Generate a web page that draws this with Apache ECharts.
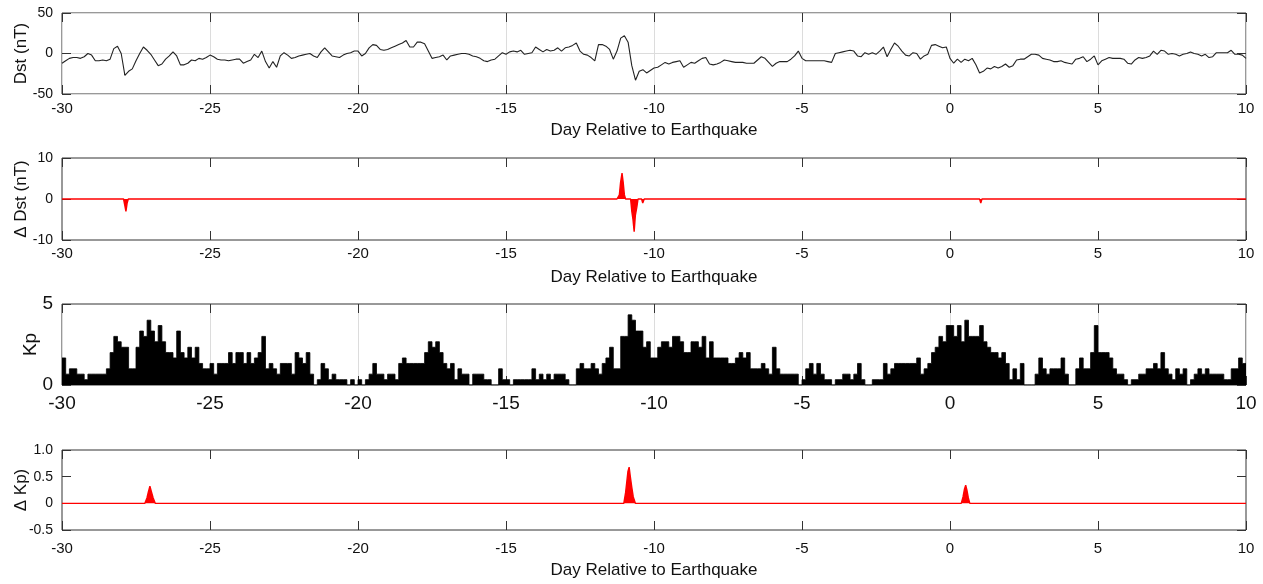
<!DOCTYPE html>
<html><head><meta charset="utf-8">
<script src="https://cdn.jsdelivr.net/npm/echarts/dist/echarts.min.js"></script>
<style>html,body{margin:0;padding:0;background:#fff}#c{width:1263px;height:584px}</style>
</head><body><div id="c"></div>
<script>
// ---- data ----
const dayStart = -30, dayEnd = 10, sampleStep = 0.125; // 3-hourly samples
const xTickInterval = 5;
const xTitle = 'Day Relative to Earthquake';
const yNames = ['Dst (nT)', '\u0394 Dst (nT)', 'Kp', '\u0394 Kp)'];

const dstVals = [
-12,-9,-6,-5,-5,-6,-4,0,-2,-9,
-9,-8,-9,-7,6,9,0,-27,-22,-19,
-9,0,8,4,-1,-8,-15,-13,-7,-3,
2,-3,-14,-14,-12,-8,-9,-6,-7,-5,
-2,-4,-7,-8,-8,-9,-8,-7,-7,-12,
-10,-8,-1,-5,3,-10,-18,-10,-17,-3,
1,-2,-6,-5,-3,-2,-1,0,-3,-5,
2,7,2,-3,-4,-5,-2,0,1,3,
3,-3,0,7,11,10,5,4,5,7,
9,11,13,16,8,8,14,14,12,3,
-6,-5,-4,-2,-8,-3,-2,-1,0,0,
-1,-3,-4,-6,-9,-10,-8,-7,-3,1,
-1,2,3,2,4,-1,0,1,8,5,
2,5,3,4,7,3,7,8,10,13,
3,-1,-2,-5,-9,11,11,9,5,-7,
3,19,22,14,-15,-33,-22,-20,-24,-21,
-18,-17,-14,-11,-13,-11,-10,-9,-17,-14,
-11,-12,-9,-6,-5,-13,-14,-13,-11,-8,
-9,-10,-11,-11,-11,-12,-12,-12,-8,-4,
-6,-11,-16,-12,-10,-10,-10,-7,-3,3,
-6,-9,-9,-9,-9,-9,-9,-10,-11,0,
1,2,3,4,3,-3,-4,1,-1,1,
-1,3,8,-4,5,13,9,3,-2,-3,
1,0,-7,-3,-1,10,11,9,7,8,
-6,-12,-7,-11,-7,-9,-6,-14,-24,-22,
-18,-19,-16,-18,-16,-13,-17,-15,-8,-7,
-7,-4,-1,-1,-2,-6,-7,-8,-10,-10,
-9,-11,-12,-13,-7,-6,-4,-10,-7,-3,
-14,-9,-7,-5,-6,-6,-6,-7,-12,-13,
-8,-5,-6,-5,-3,3,-1,4,3,-1,
0,-1,-3,-1,0,2,0,-1,-3,-1,
-5,-4,1,1,1,1,4,-1,-1,-2,-6
];

const kpVals = [
1.67,0.67,1.0,1.0,0.67,0.67,0.33,0.67,0.67,0.67,
0.67,0.67,1.0,2.0,3.0,2.67,2.33,2.33,1.0,1.0,
2.33,3.33,3.0,4.0,3.33,2.67,3.67,2.67,2.0,2.0,
1.67,3.33,2.0,1.67,2.33,1.67,2.33,1.33,1.0,1.0,
1.33,0.67,1.33,1.33,1.33,2.0,1.33,2.0,2.0,1.33,
2.0,1.33,1.67,2.0,3.0,1.0,1.33,1.0,0.67,1.33,
1.33,1.33,0.67,2.0,1.67,1.33,2.0,0.67,0,0.33,
1.33,1.0,0.33,0.67,0.33,0.33,0.33,0,0.33,0,
0.33,0,0.33,0.67,1.33,0.67,0.67,0.33,0.67,0.67,
0.33,1.33,1.67,1.33,1.33,1.33,1.33,1.33,2.0,2.67,
2.33,2.67,2.0,1.33,1.0,1.33,0.33,1.0,0.67,0.67,
0,0.67,0.67,0.67,0.33,0.33,0,0,1.0,0.33,
0.33,0,0.33,0.33,0.33,0.33,0.33,1.0,0.33,0.67,
0.33,0.67,0.33,0.67,0.67,0.67,0.33,0,0,1.0,
1.33,1.0,1.0,1.33,1.0,0.67,1.33,1.67,2.33,1.0,
1.0,3.0,3.0,4.33,4.0,3.33,3.33,2.33,2.67,1.67,
1.67,2.33,2.67,2.67,2.33,3.0,3.0,2.67,2.0,2.0,
2.67,2.67,2.33,3.0,1.67,2.67,1.67,1.67,1.67,1.67,
1.33,1.33,1.67,2.0,1.67,2.0,1.0,1.0,1.0,1.33,
1.0,0.67,2.33,1.0,0.67,0.67,0.67,0.67,0.67,0,
0.33,1.0,1.33,0.67,1.33,0.67,0.33,0.33,0,0.33,
0.33,0.67,0.67,0.33,0.67,1.33,0.33,0,0,0.33,
0.33,0.33,1.33,0.67,1.0,1.33,1.33,1.33,1.33,1.33,
1.33,1.67,0.67,1.0,1.33,2.0,2.33,3.0,2.67,3.67,
3.67,3.0,3.67,2.67,4.0,3.0,3.0,3.0,3.67,2.67,
2.33,2.0,2.0,1.67,2.0,1.33,0.33,1.0,0.33,1.33,
0,0,0,0.67,1.67,1.0,0.67,1.0,1.0,1.0,
1.67,0.67,0,0,1.0,1.67,1.0,1.0,2.0,3.67,
2.0,2.0,2.0,1.67,1.0,0.67,0.67,0.33,0,0.33,
0.33,0.67,0.67,1.0,1.0,1.33,1.0,2.0,1.0,0.67,
0.33,1.0,0.67,1.0,0,0.33,0.67,1.0,0.67,1.0,
0.67,0.67,0.67,0.67,0.33,0.33,1.0,1.0,1.67,1.33
];

const dDstDays = [-30,-27.92,-27.88,-27.84,-27.80,-27.76,
  -11.25,-11.17,-11.13,-11.08,-11.04,-11.0,-10.96,
  -10.79,-10.75,-10.71,-10.67,-10.63,-10.58,-10.54,
  -10.42,-10.38,-10.33, 1.0,1.04,1.08, 10];
const dDstVals = [0,0,-1.5,-3,-1,0,
  0,1,4,6.3,4,1,0,
  0,-3,-5,-8,-4,-2,0,
  0,-1,0, 0,-1,0, 0];

const dKpDays = [-30,-27.2,-27.13,-27.08,-27.03,-26.98,-26.92,-26.85,
  -11.02,-10.96,-10.92,-10.88,-10.84,-10.80,-10.75,-10.70,-10.63,
  0.38,0.44,0.49,0.53,0.57,0.62,0.67, 10];
const dKpVals = [0,0,0.1,0.22,0.32,0.22,0.1,0,
  0,0.2,0.4,0.6,0.68,0.5,0.3,0.12,0,
  0,0.12,0.27,0.34,0.25,0.1,0, 0];

// ---- build chart ----
const FONT = "'Liberation Sans', Arial, sans-serif";
const L = 62, W = 1184;
const panels = [
  {top:13,  h:81, ymin:-50, ymax:50, yint:50, xgrid:true, ygrid:true, xl:15, xm:7, xname:true, ng:28, yg:32},
  {top:158, h:82, ymin:-10, ymax:10, yint:10, xgrid:false, ygrid:false, xl:15, xm:6, xname:true, ng:29, yg:32},
  {top:304, h:81, ymin:0, ymax:5, yint:5, xgrid:true, ygrid:false, xl:19, xm:9, xname:false, ng:0, yg:22},
  {top:450, h:80, ymin:-0.5, ymax:1.0, yint:0.5, xgrid:false, ygrid:false, xl:15, xm:11, xname:true, ng:32, yg:32}
];
const tickLine = {color:'#333', width:1};
const grid = [], xAxis = [], yAxis = [];
panels.forEach((p, i) => {
  grid.push({left:L, top:p.top, width:W, height:p.h, show:true, borderColor:'#333', borderWidth:1, backgroundColor:'transparent'});
  xAxis.push({type:'value', gridIndex:i, min:dayStart, max:dayEnd, interval:xTickInterval,
    axisLine:{show:false, onZero:false}, axisTick:{inside:true, length:9, lineStyle:tickLine},
    axisLabel:{fontFamily:FONT, fontSize:p.xl, color:'#111', margin:p.xm},
    splitLine:{show:p.xgrid, lineStyle:{color:'#dcdcdc', width:1}},
    name:p.xname ? xTitle : '', nameLocation:'middle', nameGap:p.ng, nameMoveOverlap:false,
    nameTextStyle:{fontFamily:FONT, fontSize:17, color:'#111'}});
  xAxis.push({type:'value', gridIndex:i, position:'top', min:dayStart, max:dayEnd, interval:xTickInterval,
    axisLine:{show:false, onZero:false}, axisTick:{inside:true, length:9, lineStyle:tickLine},
    axisLabel:{show:false}, splitLine:{show:false}});
  yAxis.push({type:'value', gridIndex:i, min:p.ymin, max:p.ymax, interval:p.yint,
    axisLine:{show:false, onZero:false}, axisTick:{inside:true, length:9, lineStyle:tickLine},
    axisLabel:{fontFamily:FONT, fontSize:i===2?19:14, color:'#111', margin:9,
      formatter: v => (i===3 && v!==0) ? v.toFixed(1) : String(v)},
    splitLine:{show:p.ygrid, lineStyle:{color:'#dcdcdc', width:1}},
    name:yNames[i], nameLocation:'middle', nameGap:p.yg, nameRotate:90, nameMoveOverlap:false,
    nameTextStyle:{fontFamily:FONT, fontSize:i===2?19:17, color:'#111'}});
  yAxis.push({type:'value', gridIndex:i, position:'right', min:p.ymin, max:p.ymax, interval:p.yint,
    axisLine:{show:false, onZero:false}, axisTick:{inside:true, length:9, lineStyle:tickLine},
    axisLabel:{show:false}, splitLine:{show:false}});
});

const dstData = dstVals.map((v, k) => [dayStart + k*sampleStep, v]);
const kpData = kpVals.map((v, k) => [dayStart + k*sampleStep, v]);
kpData.push([dayEnd, kpVals[kpVals.length-1]]);
const dDstData = dDstDays.map((d, k) => [d, dDstVals[k]]);
const dKpData = dKpDays.map((d, k) => [d, dKpVals[k]]);

const option = {
  animation:false,
  backgroundColor:'#fff',
  grid, xAxis, yAxis,
  series:[
    {type:'line', xAxisIndex:0, yAxisIndex:0, data:dstData, showSymbol:false, symbol:'none',
      lineStyle:{color:'#222', width:1.1}},
    {type:'line', xAxisIndex:2, yAxisIndex:2, data:dDstData, showSymbol:false, symbol:'none',
      lineStyle:{color:'#ff0000', width:1.4}, areaStyle:{color:'#ff0000', opacity:1}},
    {type:'line', xAxisIndex:4, yAxisIndex:4, data:kpData, step:'end', showSymbol:false, symbol:'none',
      lineStyle:{color:'#000', width:0.8}, areaStyle:{color:'#000', opacity:1}},
    {type:'line', xAxisIndex:6, yAxisIndex:6, data:dKpData, showSymbol:false, symbol:'none',
      lineStyle:{color:'#ff0000', width:1.4}, areaStyle:{color:'#ff0000', opacity:1}}
  ]
};
const chart = echarts.init(document.getElementById('c'), null, {renderer:'canvas'});
chart.setOption(option);
</script>
</body></html>
